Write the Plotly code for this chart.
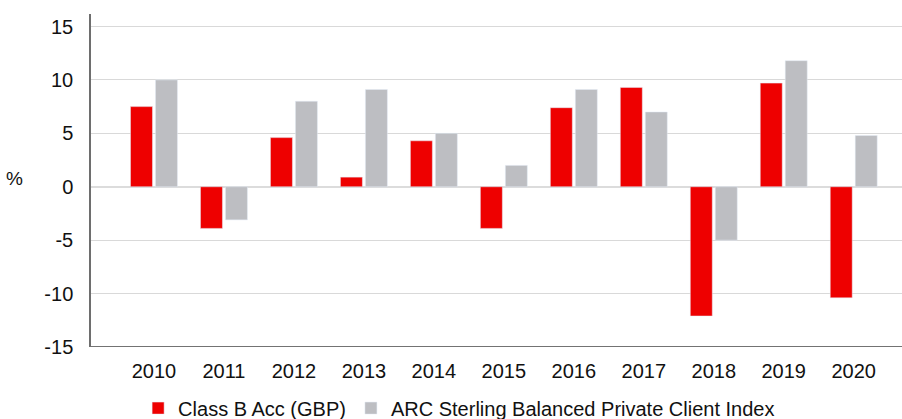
import plotly.graph_objects as go

years = ["2010", "2011", "2012", "2013", "2014", "2015", "2016", "2017", "2018", "2019", "2020"]
fund = [7.5, -3.9, 4.6, 0.9, 4.3, -3.9, 7.4, 9.3, -12.1, 9.7, -10.4]
index = [10.0, -3.1, 8.0, 9.1, 5.0, 2.0, 9.1, 7.0, -5.0, 11.8, 4.8]
yticks = [-15, -10, -5, 0, 5, 10, 15]
ytick_labels = ["-15", "-10", "-5", "0", "5", "10", "15"]

FONT = "Liberation Sans, Arial, sans-serif"

fig = go.Figure()
fig.add_trace(go.Bar(x=years, y=fund, name="Class B Acc (GBP)", marker_color="#EE0000"))
fig.add_trace(go.Bar(x=years, y=index, name="ARC Sterling Balanced Private Client Index", marker_color="#BDBEC2"))

fig.update_layout(
    width=902, height=419,
    margin=dict(l=91, r=0, t=14, b=72),
    paper_bgcolor="white", plot_bgcolor="white",
    barmode="group", bargap=0.286, bargroupgap=0.12,
    font=dict(family=FONT, size=20, color="#111111"),
    showlegend=True,
    legend=dict(orientation="h", x=0.509, xanchor="center", xref="container",
                y=0.026, yanchor="middle", yref="container",
                font=dict(size=20), itemwidth=30, traceorder="normal",
                tracegroupgap=0),
    xaxis=dict(range=[-0.9, 10.69], showgrid=False, zeroline=False, automargin=False,
               showline=False, ticks="", ticklabelstandoff=10),
    yaxis=dict(range=[-15, 16.17], tickvals=yticks, ticktext=ytick_labels, automargin=False,
               showgrid=True, gridcolor="#D9D9D9",
               gridwidth=1, zeroline=True, zerolinecolor="#DCDCDC", zerolinewidth=2,
               showline=True, linecolor="#6E6E6E", linewidth=1.5, ticks="",
               ticklabelstandoff=12),
)
# bottom axis line at -15
fig.add_shape(type="line", xref="paper", yref="y", x0=0, x1=1, y0=-15, y1=-15,
              line=dict(color="#444444", width=1.5))
fig.add_annotation(text="%", xref="paper", yref="y", x=-0.0814, y=0.8,
                   xanchor="right", yanchor="middle", showarrow=False, font=dict(size=19))

fig.write_html("out.html", config={"displayModeBar": False},
               post_script="document.body.style.margin='0';")
